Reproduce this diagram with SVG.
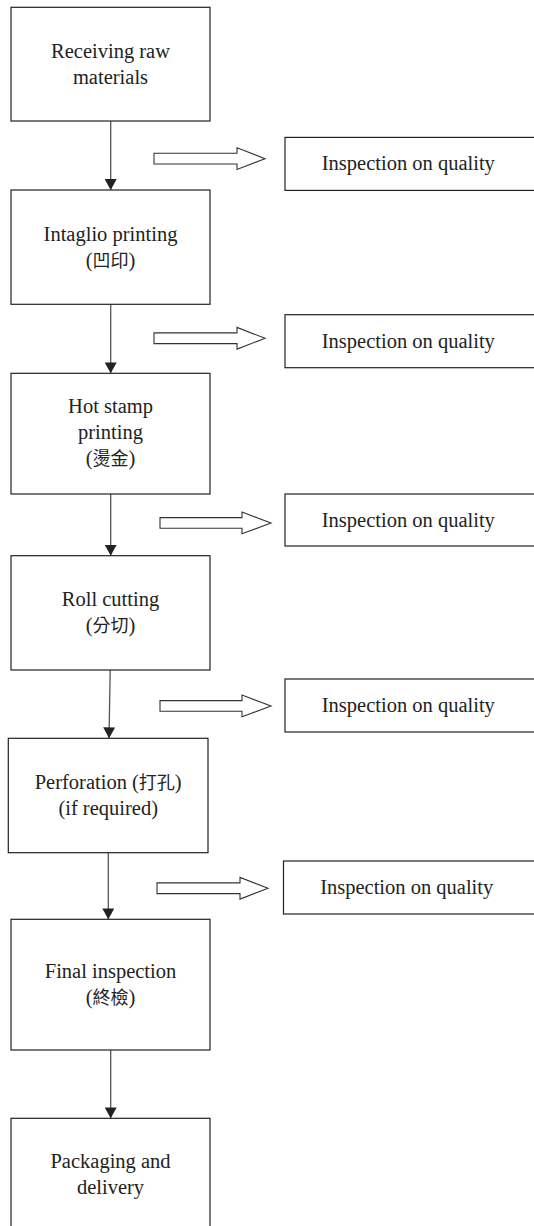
<svg xmlns="http://www.w3.org/2000/svg" width="534" height="1226" viewBox="0 0 534 1226">
<style>
.box{fill:#fff;stroke:#222;stroke-width:1.2}
text{font-family:'Liberation Serif','Times New Roman',Times,serif;font-size:20.5px;fill:#222;text-anchor:middle}
.k{font-family:'Noto Sans CJK TC','Noto Sans CJK JP',sans-serif;font-size:18px}
.c{stroke:#555;stroke-width:1.3;fill:none}
.h{fill:#fff;stroke:#333;stroke-width:1.1}
</style>
<defs>
<marker id="ah" markerUnits="userSpaceOnUse" markerWidth="11" markerHeight="12" refX="10" refY="5.5" orient="auto" viewBox="0 0 10 11">
<path d="M0,0 L10,5.5 L0,11 z" fill="#222"/>
</marker>
</defs>
<rect width="534" height="1226" fill="#fff"/>
<g id="connectors">
<line class="c" x1="110.7" y1="121" x2="110.7" y2="190" marker-end="url(#ah)"/>
<line class="c" x1="110.7" y1="304.3" x2="110.7" y2="373.3" marker-end="url(#ah)"/>
<line class="c" x1="110.7" y1="494" x2="110.7" y2="555.7" marker-end="url(#ah)"/>
<line class="c" x1="110.2" y1="670" x2="109" y2="738.3" marker-end="url(#ah)"/>
<line class="c" x1="108.3" y1="852.7" x2="108.3" y2="919.3" marker-end="url(#ah)"/>
<line class="c" x1="110.7" y1="1050" x2="110.7" y2="1118.3" marker-end="url(#ah)"/>
<polygon class="h" points="154,153.3 237,153.3 237,147.8 265,158.7 237,169.5 237,164 154,164"/>
<polygon class="h" points="154,332.9 237,332.9 237,327.4 265,338.3 237,349.1 237,343.6 154,343.6"/>
<polygon class="h" points="160,517.6 242,517.6 242,512.1 271,523 242,533.8 242,528.3 160,528.3"/>
<polygon class="h" points="160,700.6 242,700.6 242,695.1 271,706 242,716.8 242,711.3 160,711.3"/>
<polygon class="h" points="157,882.9 240,882.9 240,877.4 268,888.3 240,899.1 240,893.6 157,893.6"/>
</g>
<g id="n1"><rect class="box" x="11" y="7.3" width="199" height="113.7"/><text x="110.5" y="57.8">Receiving raw</text><text x="110.5" y="83.8">materials</text></g>
<g id="n2"><rect class="box" x="11" y="190" width="199" height="114.3"/><text x="110.5" y="241">Intaglio printing</text><text x="110.5" y="267">(<tspan class="k">凹印</tspan>)</text></g>
<g id="n3"><rect class="box" x="11" y="373.3" width="199" height="120.7"/><text x="110.5" y="413">Hot stamp</text><text x="110.5" y="439">printing</text><text x="110.5" y="465">(<tspan class="k">燙金</tspan>)</text></g>
<g id="n4"><rect class="box" x="11" y="555.7" width="199" height="114.3"/><text x="110.5" y="606">Roll cutting</text><text x="110.5" y="632">(<tspan class="k">分切</tspan>)</text></g>
<g id="n5"><rect class="box" x="8.3" y="738.3" width="199.7" height="114.4"/><text x="108.2" y="789">Perforation (<tspan class="k">打孔</tspan>)</text><text x="108.2" y="815">(if required)</text></g>
<g id="n6"><rect class="box" x="11" y="919.3" width="199" height="130.7"/><text x="110.5" y="978">Final inspection</text><text x="110.5" y="1004">(<tspan class="k">終檢</tspan>)</text></g>
<g id="n7"><rect class="box" x="11" y="1118.3" width="199" height="120"/><text x="110.5" y="1168">Packaging and</text><text x="110.5" y="1194">delivery</text></g>
<g id="q1"><rect class="box" x="285" y="137.4" width="260" height="53"/><text x="408.3" y="170.4">Inspection on quality</text></g>
<g id="q2"><rect class="box" x="285" y="314.7" width="260" height="53"/><text x="408.3" y="347.7">Inspection on quality</text></g>
<g id="q3"><rect class="box" x="285" y="494" width="260" height="52"/><text x="408.3" y="526.6">Inspection on quality</text></g>
<g id="q4"><rect class="box" x="285" y="679" width="260" height="53"/><text x="408.3" y="712">Inspection on quality</text></g>
<g id="q5"><rect class="box" x="283.5" y="861" width="260" height="53"/><text x="406.7" y="894">Inspection on quality</text></g>
</svg>
